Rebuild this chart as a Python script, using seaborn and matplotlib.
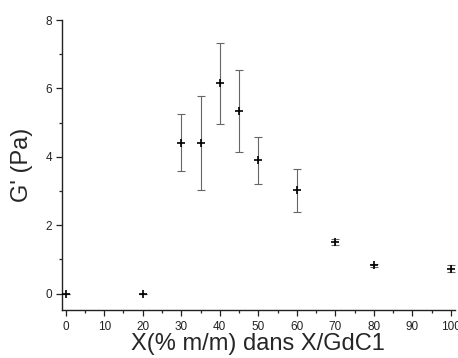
import matplotlib
matplotlib.use("Agg")
import matplotlib.pyplot as plt
import seaborn as sns
import pandas as pd
import numpy as np
from matplotlib.ticker import MultipleLocator

x_vals = [0, 20, 30, 35, 40, 45, 50, 60, 70, 80, 100]
g_vals = [0.0, 0.0, 4.41, 4.41, 6.15, 5.34, 3.90, 3.02, 1.51, 0.83, 0.73]
g_err = [0.0, 0.0, 0.83, 1.37, 1.19, 1.20, 0.69, 0.62, 0.10, 0.05, 0.10]

df = pd.DataFrame({"x": x_vals, "g": g_vals, "err": g_err})

sns.set_style("ticks")
plt.rcParams['font.family'] = ['Liberation Sans', 'DejaVu Sans']

fig = plt.figure(figsize=(4.58, 3.58), dpi=100)
ax = fig.add_axes([0.135, 0.134, 0.858, 0.810])

ax.errorbar(df["x"], df["g"], yerr=df["err"], fmt='none', ecolor='#666666',
            elinewidth=0.8, capsize=2.8, capthick=0.8)
sns.scatterplot(data=df, x="x", y="g", marker='+', color='black', s=40,
                linewidth=1.2, ax=ax, zorder=3)

ax.set_xlim(-1, 101)
ax.set_ylim(-0.48, 8)
ax.xaxis.set_major_locator(MultipleLocator(10))
ax.xaxis.set_minor_locator(MultipleLocator(5))
ax.yaxis.set_major_locator(MultipleLocator(2))
ax.yaxis.set_minor_locator(MultipleLocator(1))
ax.tick_params(which='major', direction='out', length=4, width=0.9, labelsize=8.5, colors='#222222')
ax.tick_params(axis='x', which='major', pad=4)
ax.tick_params(axis='y', which='major', pad=3)
ax.tick_params(which='minor', direction='out', length=2.5, width=0.9)

for s in ['top', 'right']:
    ax.spines[s].set_visible(False)
for s in ['left', 'bottom']:
    ax.spines[s].set_linewidth(1.0)
    ax.spines[s].set_color('#222222')

ax.set_xlabel("X(% m/m) dans X/GdC1", fontsize=17, labelpad=0)
ax.set_ylabel("G' (Pa)", fontsize=17, labelpad=9)

fig.savefig("out.png", dpi=100)
